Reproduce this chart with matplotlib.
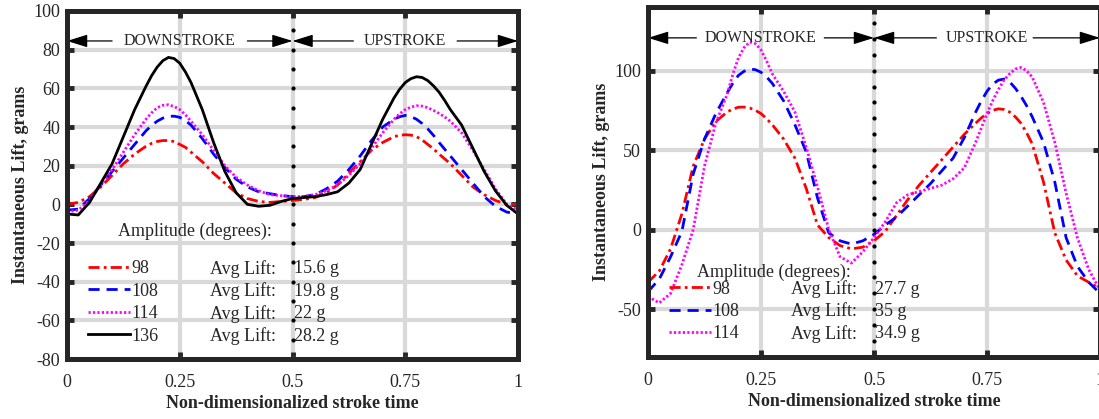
import numpy as np
import matplotlib
matplotlib.use("Agg")
import matplotlib.pyplot as plt

plt.rcParams['font.family'] = ['Liberation Serif', 'DejaVu Serif']
plt.rcParams['lines.scale_dashes'] = False

# ---------------- data ----------------
t = [0, 0.025, 0.05, 0.075, 0.1, 0.125, 0.15, 0.175, 0.1875, 0.2, 0.2125, 0.225, 0.2375,
     0.25, 0.2625, 0.275, 0.3, 0.325, 0.35, 0.375, 0.4, 0.425, 0.45, 0.475, 0.5, 0.525, 0.55,
     0.575, 0.6, 0.625, 0.65, 0.675, 0.7, 0.725, 0.7375, 0.75, 0.7625, 0.775, 0.7875, 0.8,
     0.8125, 0.825, 0.8375, 0.85, 0.875, 0.9, 0.925, 0.95, 0.975, 1.0]

# Left panel series
left_98 = [0, 1, 4, 9, 15, 21, 26, 30, 31.5, 32.5, 33, 33, 32.5, 31, 29.5, 27, 22, 16, 11, 6,
           3, 1.5, 1, 1.5, 2, 2.5, 3.5, 6, 10, 16, 22, 28, 32, 35, 35.7, 36, 35.8, 35, 33.3,
           31, 28.7, 26, 23.5, 21, 15, 9, 5, 2, 0, 0]
left_108 = [-3, -2.5, 3, 10, 17, 24, 31, 38, 40.8, 43, 44.6, 45.5, 45.6, 45, 43.3, 41, 34, 26,
            19, 13, 9, 6.5, 5.5, 4.5, 4, 4, 5, 8, 12, 18, 25, 33, 40, 44, 45.3, 46, 45.4, 44,
            41.8, 39, 35.7, 32, 28.5, 25, 18, 11, 4, -1, -4, -5]
left_114 = [-4, -3, 2, 10, 18, 27, 36, 44, 47.3, 50, 51.2, 51.5, 50.6, 49, 46.3, 43, 36, 28,
            20, 14, 10, 7, 5, 4.5, 4, 4, 5, 7, 10, 15, 21, 29, 37, 44, 46.8, 49, 50.3, 51,
            50.8, 50, 48.6, 47, 45.2, 43, 37, 28, 18, 8, 0, -3]
left_136 = [-5, -5.5, 1, 11, 21, 35, 49, 61, 66.5, 71, 74.3, 76, 75.4, 73, 68.5, 63, 49, 32,
            17, 6, 0, -1, -0.5, 1.5, 3, 3.5, 4, 5, 6.5, 11, 18, 31, 44, 55, 59.5, 63, 65, 66,
            65.6, 64, 61.3, 58, 53.7, 49, 41, 29, 17, 7, -0.5, -5]

# Right panel series
right_98 = [-33, -26, -12, 10, 40, 57, 68, 74, 75.8, 77, 77.1, 76.5, 75.1, 73, 69.8, 66, 57,
            45, 26, 3, -5, -10, -12, -11, -7, -1, 9, 19, 28, 36, 44, 52, 60, 67, 70.3, 73,
            75, 76, 75.6, 74, 71, 67, 61, 54, 30, -2, -19, -29, -33, -37]
right_108 = [-39, -31, -17, -1, 35, 57, 73, 86, 92, 97, 99.6, 101, 100.6, 99, 96, 92, 81, 66,
             49, 20, -2, -7, -9, -7, -3, 3, 8, 15, 22, 29, 37, 45, 58, 74, 81, 87, 91.5, 94,
             94.7, 93, 89, 84, 78, 71, 55, 30, -5, -23, -33, -40]
right_114 = [-42, -46, -40, -22, 0, 40, 67, 85, 97.5, 108, 114.5, 118, 117, 113, 106, 98, 87,
             74, 52, 27, 0, -17, -21, -14, -5, 5, 17, 22, 24, 26, 28, 32, 39, 55, 64, 73, 81,
             88, 94, 98, 101, 102, 100, 96, 80, 55, 23, -5, -25, -38]

left_amplitudes = ['98', '108', '114', '136']
left_avg = ['15.6 g', '19.8 g', '22 g', '28.2 g']
right_amplitudes = ['98', '108', '114']
right_avg = ['27.7 g', '35 g', '34.9 g']

x_ticks = [0, 0.25, 0.5, 0.75, 1]
x_ticklabels = ['0', '0.25', '0.5', '0.75', '1']
left_yticks = [-80, -60, -40, -20, 0, 20, 40, 60, 80, 100]
right_yticks = [-50, 0, 50, 100]

# ---------------- styles ----------------
styles = [
    dict(color=(1, 0, 0), dashes=[8, 3, 2, 3]),
    dict(color=(0, 0, 1), dashes=[8, 5]),
    dict(color=(1, 0, 1), dashes=[1.6, 1.6]),
    dict(color='black', linestyle='-'),
]
GRAY = '#d9d9d9'
DARK = '#262626'
FS = 13

fig = plt.figure(figsize=(10.99, 4.19), dpi=100)
ax1 = fig.add_axes([67 / 1099, (419 - 359) / 419, 451 / 1099, 348 / 419])
ax2 = fig.add_axes([648 / 1099, (419 - 357) / 419, 452 / 1099, 350 / 419])


def setup(ax, yticks, ylim):
    ax.set_xlim(0, 1)
    ax.set_ylim(*ylim)
    ax.set_xticks(x_ticks)
    ax.set_xticklabels(x_ticklabels)
    ax.set_yticks(yticks)
    ax.set_yticklabels([str(v) for v in yticks])
    ax.grid(True, color=GRAY, linewidth=3.0, zorder=0)
    ax.set_axisbelow(True)
    for s in ax.spines.values():
        s.set_linewidth(3.6)
        s.set_color(DARK)
        s.set_zorder(5)
    ax.tick_params(direction='in', length=5, width=3.5, color=DARK, top=True, right=True,
                   labelsize=FS, labelcolor=DARK)
    ax.tick_params(axis='x', pad=11)
    ax.tick_params(axis='y', pad=5)
    ax.set_xlabel('Non-dimensionalized stroke time', fontsize=13, fontweight='bold',
                  color=DARK, labelpad=3)
    ax.set_ylabel('Instantaneous Lift, grams', fontsize=13, fontweight='bold', color=DARK,
                  labelpad=3)
    # black dotted divider at mid-stroke
    ys = np.arange(ylim[0], ylim[1] + 1, 10)
    ax.plot(np.full(len(ys), 0.5), ys, linestyle='none', marker='o', markersize=2.0,
            color='black', zorder=3, clip_on=False)


def stroke_arrows(ax, y, d_lo, d_hi, u_lo, u_hi):
    kw = dict(arrowstyle='-|>,head_length=0.9,head_width=0.28', color='black', lw=0.9,
              mutation_scale=14, shrinkA=0, shrinkB=0)
    ax.annotate('', xy=(0, y), xytext=(d_lo, y), arrowprops=kw, zorder=4)
    ax.annotate('', xy=(0.5, y), xytext=(d_hi, y), arrowprops=kw, zorder=4)
    ax.annotate('', xy=(0.5, y), xytext=(u_lo, y), arrowprops=kw, zorder=4)
    ax.annotate('', xy=(1.0, y), xytext=(u_hi, y), arrowprops=kw, zorder=4)
    ax.text(0.25, y, 'DOWNSTROKE', ha='center', va='center', fontsize=11.5, color=DARK)
    ax.text(0.75, y, 'UPSTROKE', ha='center', va='center', fontsize=11.5, color=DARK)


def legend_block(ax, lines, labels, avgs, title_xy, anchor):
    ax.text(title_xy[0], title_xy[1], 'Amplitude (degrees):', fontsize=FS, color=DARK,
            ha='left', va='center')
    leg = ax.legend(lines, labels, loc='upper left', bbox_to_anchor=anchor,
                    bbox_transform=ax.transData, frameon=False, fontsize=FS,
                    handlelength=2.35, handletextpad=0.05, borderpad=0, borderaxespad=0,
                    labelspacing=0.3, labelcolor=DARK)
    fig.canvas.draw()
    inv = ax.transData.inverted()
    for txt, avg in zip(leg.get_texts(), avgs):
        bb = txt.get_window_extent()
        yc = inv.transform(((bb.x0 + bb.x1) / 2, (bb.y0 + bb.y1) / 2))[1]
        ax.text(0.316, yc, 'Avg Lift:', fontsize=FS, color=DARK, ha='left', va='center')
        ax.text(0.503, yc, avg, fontsize=FS, color=DARK, ha='left', va='center')


# ---------------- left panel ----------------
setup(ax1, left_yticks, (-80, 100))
lines1 = []
for ys, st in zip([left_98, left_108, left_114, left_136], styles):
    ln, = ax1.plot(t, ys, linewidth=2.0, zorder=2, **st)
    lines1.append(ln)
stroke_arrows(ax1, 84.5, 0.10, 0.40, 0.635, 0.865)
legend_block(ax1, lines1, left_amplitudes, left_avg, (0.112, -14), (0.046, -29))

# ---------------- right panel ----------------
setup(ax2, right_yticks, (-80, 140))
lines2 = []
for ys, st in zip([right_98, right_108, right_114], styles[:3]):
    ln, = ax2.plot(t, ys, linewidth=2.0, zorder=2, **st)
    lines2.append(ln)
stroke_arrows(ax2, 120.6, 0.107, 0.39, 0.638, 0.852)
legend_block(ax2, lines2, right_amplitudes, right_avg, (0.108, -26.5), (0.046, -32))

fig.savefig('out.png', dpi=100)
